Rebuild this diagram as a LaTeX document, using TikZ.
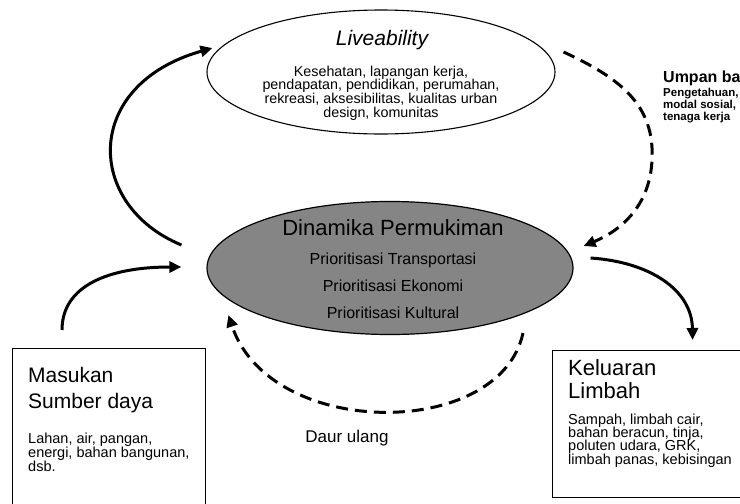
\documentclass[tikz,border=0pt]{standalone}
\usepackage{fontspec}
\setmainfont{Liberation Sans}
\usetikzlibrary{shapes.geometric,arrows.meta}
\begin{document}
\begin{tikzpicture}[x=1pt,y=-1pt,
  flow/.style={line width=3pt,-{Triangle[length=12pt,width=11pt]}},
  dflow/.style={flow,dash pattern=on 12pt off 7pt},
  box/.style={draw,line width=1.1pt,anchor=north west,inner sep=0},
  lbl/.style={inner sep=0,anchor=base west},
  ctr/.style={inner sep=0,align=center}]
\useasboundingbox (0,0) rectangle (740,504);

% ellipses and boxes
\node[draw,ellipse,line width=1.1pt,minimum width=348pt,minimum height=124pt,inner sep=0] (live) at (381,72) {};
\node[draw,ellipse,fill=black!48,line width=1.2pt,minimum width=366pt,minimum height=133pt,inner sep=0] (dina) at (390,268) {};
\node[box,minimum width=193pt,minimum height=175pt] (mas) at (12,348) {};
\node[box,minimum width=220pt,minimum height=147pt] (kel) at (552,350) {};

% Liveability texts
\node[ctr,font=\fontsize{21}{24}\selectfont\itshape] (livet) at (382,40) {Liveability};
\node[ctr,font=\fontsize{14.3}{13.8}\selectfont] (liveb) at (381,93)
  {Kesehatan, lapangan kerja,\\pendapatan, pendidikan, perumahan,\\rekreasi, aksesibilitas, kualitas urban\\design, komunitas};

% Dinamika texts
\node[ctr,font=\fontsize{22}{24}\selectfont] (dinat) at (393,228) {Dinamika Permukiman};
\node[ctr,font=\fontsize{16}{27}\selectfont] (dinab) at (393,286)
  {Prioritisasi Transportasi\\Prioritisasi Ekonomi\\Prioritisasi Kultural};

% Masukan texts
\node[lbl,font=\fontsize{21}{24}\selectfont] (mas1) at (28,382) {Masukan};
\node[lbl,font=\fontsize{21}{24}\selectfont] (mas2) at (28,408) {Sumber daya};
\node[lbl,font=\fontsize{14.5}{14}\selectfont] (mas3) at (28,443) {Lahan, air, pangan,};
\node[lbl,font=\fontsize{14.5}{14}\selectfont] (mas4) at (28,457) {energi, bahan bangunan,};
\node[lbl,font=\fontsize{14.5}{14}\selectfont] (mas5) at (28,471) {dsb.};

% Keluaran texts
\node[lbl,font=\fontsize{22}{24}\selectfont] (kel1) at (568,375) {Keluaran};
\node[lbl,font=\fontsize{22}{24}\selectfont] (kel2) at (568,398) {Limbah};
\node[lbl,font=\fontsize{14.5}{14}\selectfont] (kel3) at (568,424) {Sampah, limbah cair,};
\node[lbl,font=\fontsize{14.5}{14}\selectfont] (kel4) at (568,437) {bahan beracun, tinja,};
\node[lbl,font=\fontsize{14.5}{14}\selectfont] (kel5) at (568,450) {poluten udara, GRK,};
\node[lbl,font=\fontsize{14.5}{14}\selectfont] (kel6) at (568,464) {limbah panas, kebisingan};

% Daur ulang
\node[ctr,font=\fontsize{17}{20}\selectfont] (daur) at (347,438) {Daur ulang};

% Umpan balik (cut off at the right edge, as in the source)
\node[lbl,font=\fontsize{16}{18}\selectfont\bfseries] (umpan) at (663,82) {Umpan balik};
\node[lbl,font=\fontsize{11.5}{12}\selectfont\bfseries] (ump1) at (663,96) {Pengetahuan,};
\node[lbl,font=\fontsize{11.5}{12}\selectfont\bfseries] (ump2) at (663,108) {modal sosial,};
\node[lbl,font=\fontsize{11.5}{12}\selectfont\bfseries] (ump3) at (663,120) {tenaga kerja};

% connector end points
\coordinate (a1s) at ([shift={(-25,-23)}]dina.west);
\coordinate (a1e) at ([shift={(6,-24)}]live.west);
\coordinate (a2s) at ([shift={(50,-18)}]mas.north west);
\coordinate (a2e) at ([shift={(-25,-1)}]dina.west);
\coordinate (a3s) at ([shift={(8,-20)}]live.east);
\coordinate (a3e) at ([shift={(10,-22)}]dina.east);
\coordinate (a4s) at ([shift={(17,-10)}]dina.east);
\coordinate (a4e) at ([shift={(30,-10)}]kel.north);
\coordinate (a5s) at ([shift={(-29,-17)}]kel.north west);
\coordinate (a5e) at ([shift={(22,47)}]dina.west);

% connectors
\draw[flow] (a1s) .. controls (85,205) and (82,85) .. (a1e);
\draw[flow] (a2s) .. controls (62,285) and (110,267) .. (a2e);
\draw[dflow] (a3s) .. controls (620,78) and (655,105) .. (652,160)
  .. controls (650,205) and (622,230) .. (a3e);
\draw[flow] (a4s) .. controls (650,262) and (692,290) .. (a4e);
\draw[dflow] (a5s) .. controls (500,440) and (270,440) .. (a5e);
\end{tikzpicture}
\end{document}
